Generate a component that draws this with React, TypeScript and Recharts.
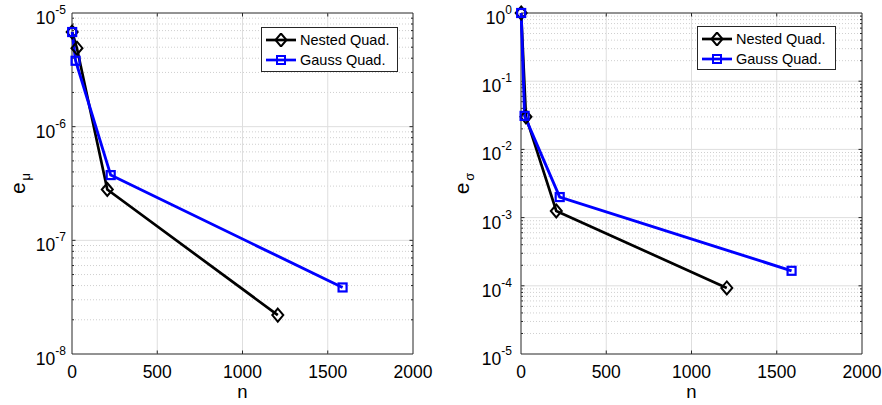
import React from "react";
import {
  Label,
  Legend,
  Line,
  LineChart,
  ReferenceArea,
  ReferenceLine,
  XAxis,
  YAxis,
} from "recharts";

// n values (number of samples) for each method
const nNested = [1, 29, 207, 1207];
const nGauss = [1, 21, 227, 1587];

// mean error e_mu
const muNested = [6.8e-6, 4.9e-6, 2.8e-7, 2.2e-8];
const muGauss = [6.8e-6, 3.8e-6, 3.75e-7, 3.85e-8];

// std error e_sigma
const sigmaNested = [1.0, 0.03, 1.25e-3, 9.3e-5];
const sigmaGauss = [1.0, 0.031, 2.0e-3, 1.66e-4];

const xTicks = [0, 500, 1000, 1500, 2000];
const muDecades = [-8, -7, -6, -5];
const sigmaDecades = [-5, -4, -3, -2, -1, 0];
const seriesNames = ["Nested Quad.", "Gauss Quad."];

const FONT = '"Liberation Sans", Arial, Helvetica, sans-serif';
const AXIS = "#262626";
const GRID = "#dedede";
const MINOR = "#cfcfcf";
const BLACK = "#000000";
const BLUE = "#0000ff";

const toPoints = (ns: number[], vs: number[]) =>
  ns.map((n, i) => ({ n, e: vs[i] }));

const minorValues = (decades: number[]) => {
  const out: number[] = [];
  for (let i = 0; i < decades.length - 1; i++) {
    for (let k = 2; k <= 9; k++) out.push(k * 10 ** decades[i]);
  }
  return out;
};

const diamondPath = (cx: number, cy: number) =>
  `M${cx} ${cy - 6.5} L${cx + 5.5} ${cy} L${cx} ${cy + 6.5} L${cx - 5.5} ${cy} Z`;

const renderDiamond = (props: any) => {
  const { cx, cy, index } = props;
  return (
    <path
      key={`dia-${index}`}
      d={diamondPath(cx, cy)}
      fill="none"
      stroke={BLACK}
      strokeWidth={2}
    />
  );
};

const renderSquare = (props: any) => {
  const { cx, cy, index } = props;
  return (
    <rect
      key={`sq-${index}`}
      x={cx - 4}
      y={cy - 4}
      width={8}
      height={8}
      fill="none"
      stroke={BLUE}
      strokeWidth={2.2}
    />
  );
};

const XTick = (props: any) => {
  const { x, y, payload } = props;
  return (
    <text x={x} y={y + 24} textAnchor="middle" fontSize={17.5} fill={BLACK} fontFamily={FONT}>
      {payload.value}
    </text>
  );
};

const YTick = (props: any) => {
  const { x, y, payload } = props;
  const exp = Math.round(Math.log10(payload.value));
  return (
    <text x={x} y={y + 11} textAnchor="end" fontSize={17.5} fill={BLACK} fontFamily={FONT}>
      10
      <tspan fontSize={12} dy={-10}>
        {exp}
      </tspan>
    </text>
  );
};

const LegendBox = ({ width, height }: { width: number; height: number }) => (
  <div
    style={{
      boxSizing: "border-box",
      width,
      height,
      border: `1px solid ${AXIS}`,
      background: "#fff",
      padding: "2px 3px",
      fontFamily: FONT,
      fontSize: 14.5,
      color: BLACK,
      whiteSpace: "nowrap",
    }}
  >
    {seriesNames.map((name, i) => (
      <div key={name} style={{ display: "flex", alignItems: "center", height: 20 }}>
        <svg width={32} height={14} style={{ marginRight: 3, flex: "none" }}>
          <line x1={1} y1={7} x2={31} y2={7} stroke={i === 0 ? BLACK : BLUE} strokeWidth={2.7} />
          {i === 0 ? (
            <path d={diamondPath(16, 7)} fill="none" stroke={BLACK} strokeWidth={2} />
          ) : (
            <rect x={12} y={3} width={8} height={8} fill="none" stroke={BLUE} strokeWidth={2} />
          )}
        </svg>
        <span>{name}</span>
      </div>
    ))}
  </div>
);

interface PanelProps {
  width: number;
  marginLeft: number;
  yAxisWidth: number;
  marginRight: number;
  decades: number[];
  nestedVals: number[];
  gaussVals: number[];
  sub: string;
  labelX: number;
  tickGap: number;
  legendLeft: number;
  legendTop: number;
  legendWidth: number;
  legendHeight: number;
}

const Panel = ({
  width,
  marginLeft,
  yAxisWidth,
  marginRight,
  decades,
  nestedVals,
  gaussVals,
  sub,
  labelX,
  tickGap,
  legendLeft,
  legendTop,
  legendWidth,
  legendHeight,
}: PanelProps) => {
  const plotH = 341;
  const plotW = width - marginLeft - yAxisWidth - marginRight;
  const yMin = 10 ** decades[0];
  const yMax = 10 ** decades[decades.length - 1];
  const decadePx = plotH / (decades.length - 1);
  const majorY = decades.map((d) => 10 ** d);
  const minorY = minorValues(decades);

  // tick lengths converted into data units
  const tx = (3.5 / plotW) * 2000;
  const txMinor = (2 / plotW) * 2000;
  const ty = 10 ** (3.5 / decadePx);

  const innerX = xTicks.slice(1, -1);
  const innerY = majorY.slice(1, -1);

  return (
    <LineChart
      width={width}
      height={405}
      margin={{ top: 13, right: marginRight, bottom: 6, left: marginLeft }}
      style={{ fontFamily: FONT }}
    >
      <XAxis
        type="number"
        dataKey="n"
        domain={[0, 2000]}
        ticks={xTicks}
        axisLine={false}
        tickLine={false}
        tickSize={0}
        tickMargin={0}
        height={45}
        tick={(p: any) => <XTick {...p} />}
      >
        <Label value="n" position="insideBottom" offset={1} fontSize={18.5} fill={BLACK} />
      </XAxis>
      <YAxis
        type="number"
        scale="log"
        domain={[yMin, yMax]}
        ticks={majorY}
        axisLine={false}
        tickLine={false}
        tickSize={0}
        tickMargin={tickGap}
        width={yAxisWidth}
        tick={(p: any) => <YTick {...p} />}
      >
        <Label
          content={(p: any) => {
            const vb = p.viewBox || { y: 13, height: plotH };
            const cy = vb.y + vb.height / 2;
            return (
              <text
                x={labelX}
                y={cy}
                transform={`rotate(-90 ${labelX} ${cy})`}
                textAnchor="middle"
                fontSize={21}
                fill={BLACK}
                fontFamily={FONT}
              >
                e
                <tspan fontSize={13} dy={5} dx={2}>
                  {sub}
                </tspan>
              </text>
            );
          }}
        />
      </YAxis>

      {minorY.map((v) => (
        <ReferenceLine key={`mg-${v}`} y={v} stroke={MINOR} strokeDasharray="1 2" />
      ))}
      {innerY.map((v) => (
        <ReferenceLine key={`gy-${v}`} y={v} stroke={GRID} />
      ))}
      {innerX.map((v) => (
        <ReferenceLine key={`gx-${v}`} x={v} stroke={GRID} />
      ))}

      <ReferenceArea x1={0} x2={2000} y1={yMin} y2={yMax} fill="none" stroke={AXIS} strokeWidth={1} />

      {innerX.map((v) => (
        <ReferenceLine key={`tb-${v}`} segment={[{ x: v, y: yMin }, { x: v, y: yMin * ty }]} stroke={AXIS} />
      ))}
      {innerX.map((v) => (
        <ReferenceLine key={`tt-${v}`} segment={[{ x: v, y: yMax / ty }, { x: v, y: yMax }]} stroke={AXIS} />
      ))}
      {innerY.map((v) => (
        <ReferenceLine key={`tl-${v}`} segment={[{ x: 0, y: v }, { x: tx, y: v }]} stroke={AXIS} />
      ))}
      {innerY.map((v) => (
        <ReferenceLine key={`tr-${v}`} segment={[{ x: 2000 - tx, y: v }, { x: 2000, y: v }]} stroke={AXIS} />
      ))}
      {minorY.map((v) => (
        <ReferenceLine key={`ml-${v}`} segment={[{ x: 0, y: v }, { x: txMinor, y: v }]} stroke={AXIS} />
      ))}
      {minorY.map((v) => (
        <ReferenceLine key={`mr-${v}`} segment={[{ x: 2000 - txMinor, y: v }, { x: 2000, y: v }]} stroke={AXIS} />
      ))}

      <Line
        data={toPoints(nNested, nestedVals)}
        dataKey="e"
        name={seriesNames[0]}
        stroke={BLACK}
        strokeWidth={2.7}
        dot={renderDiamond}
        isAnimationActive={false}
      />
      <Line
        data={toPoints(nGauss, gaussVals)}
        dataKey="e"
        name={seriesNames[1]}
        stroke={BLUE}
        strokeWidth={2.9}
        dot={renderSquare}
        isAnimationActive={false}
      />

      <Legend
        layout="vertical"
        align="center"
        verticalAlign="middle"
        wrapperStyle={{ left: legendLeft, top: legendTop, width: "auto", height: "auto" }}
        content={() => <LegendBox width={legendWidth} height={legendHeight} />}
      />
    </LineChart>
  );
};

export default function App() {
  return (
    <div
      style={{
        position: "absolute",
        left: 0,
        top: 0,
        width: 882,
        height: 405,
        background: "#fff",
        fontFamily: FONT,
      }}
    >
      <div style={{ position: "absolute", left: 0, top: 0 }}>
        <Panel
          width={440}
          marginLeft={12}
          yAxisWidth={60}
          marginRight={27}
          decades={muDecades}
          nestedVals={muNested}
          gaussVals={muGauss}
          sub="μ"
          labelX={25}
          tickGap={6}
          legendLeft={261}
          legendTop={27}
          legendWidth={137}
          legendHeight={45}
        />
      </div>
      <div style={{ position: "absolute", left: 440, top: 0 }}>
        <Panel
          width={442}
          marginLeft={11}
          yAxisWidth={70}
          marginRight={20}
          decades={sigmaDecades}
          nestedVals={sigmaNested}
          gaussVals={sigmaGauss}
          sub="σ"
          labelX={29}
          tickGap={9}
          legendLeft={257}
          legendTop={26}
          legendWidth={139}
          legendHeight={44}
        />
      </div>
    </div>
  );
}
